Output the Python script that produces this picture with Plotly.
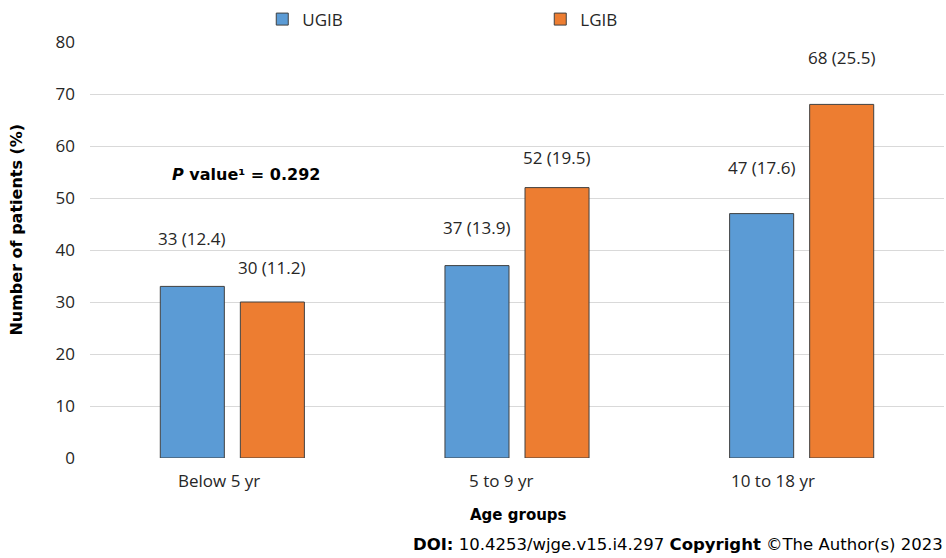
import plotly.graph_objects as go

categories = ["Below 5 yr", "5 to 9 yr", "10 to 18 yr"]
series_names = ["UGIB", "LGIB"]
ugib_counts = [33, 37, 47]
ugib_pct = [12.4, 13.9, 17.6]
lgib_counts = [30, 52, 68]
lgib_pct = [11.2, 19.5, 25.5]
y_ticks = [0, 10, 20, 30, 40, 50, 60, 70, 80]

# styling / offsets (not data)
colors = ["#5B9BD5", "#ED7D31"]
label_yshift = [[48, 38, 46], [35, 30, 47]]
bar_xshift = [-40, 40]
cat_label_xshift = [-13, -16, -29]
FONT = "Open Sans"
BFONT = "DejaVu Sans"
TXT = "#262626"

fig = go.Figure()
series = [(ugib_counts, ugib_pct), (lgib_counts, lgib_pct)]
for i, (counts, pct) in enumerate(series):
    fig.add_trace(go.Bar(
        x=categories, y=counts, name=series_names[i],
        marker=dict(color=colors[i], line=dict(color="#404040", width=1)),
    ))

annotations = []
for i, (counts, pct) in enumerate(series):
    for j, c in enumerate(categories):
        annotations.append(dict(
            x=c, y=counts[j], xref="x", yref="y",
            text=f"{counts[j]} ({pct[j]})", showarrow=False,
            xshift=bar_xshift[i], yshift=label_yshift[i][j],
            xanchor="center", yanchor="middle",
            font=dict(family=FONT, size=17, color=TXT)))

for j, c in enumerate(categories):
    annotations.append(dict(
        x=c, y=-0.055, xref="x", yref="paper", text=c, showarrow=False,
        xshift=cat_label_xshift[j], xanchor="center", yanchor="middle",
        font=dict(family=FONT, size=17, color=TXT)))

annotations += [
    dict(x=0.502, y=-0.137, xref="paper", yref="paper", text="<b>Age groups</b>",
         showarrow=False, xanchor="center", yanchor="middle",
         font=dict(family=BFONT, size=15, color="#000000")),
    dict(x=-0.0855, y=0.549, xref="paper", yref="paper", text="<b>Number of patients (%)</b>",
         textangle=-90, showarrow=False, xanchor="center", yanchor="middle",
         font=dict(family=BFONT, size=16, color="#000000")),
    dict(x=0.0937, y=0.681, xref="paper", yref="paper", xanchor="left", yanchor="middle",
         text="<b><i>P</i> value¹ = 0.292</b>", showarrow=False,
         font=dict(family=BFONT, size=16, color="#000000")),
    dict(x=1.0, y=-0.209, xref="paper", yref="paper", xanchor="right", yanchor="middle",
         xshift=1,
         text="<b>DOI:</b> 10.4253/wjge.v15.i4.297 <b>Copyright</b> ©The Author(s) 2023",
         showarrow=False, font=dict(family=BFONT, size=16.5, color="#000000")),
]

fig.update_layout(
    width=946, height=558,
    margin=dict(l=90, r=2, t=42, b=100),
    paper_bgcolor="white", plot_bgcolor="white",
    barmode="group", bargap=0.4376, bargroupgap=0.2,
    font=dict(family=FONT, size=16, color=TXT),
    legend=dict(orientation="h", x=0.2017, y=1.054, xanchor="left", yanchor="middle",
                entrywidth=233, entrywidthmode="pixels",
                font=dict(family=FONT, size=17, color=TXT)),
    annotations=annotations,
)
fig.update_xaxes(showticklabels=False, showgrid=False, showline=False, zeroline=False)
fig.update_yaxes(range=[0, 80], tickvals=y_ticks, showgrid=True, gridcolor="#D9D9D9",
                 gridwidth=1, zeroline=False, showline=False, ticks="",
                 ticklabelstandoff=14, tickfont=dict(family=FONT, size=17, color=TXT))

fig.write_html("out.html", config={"displayModeBar": False},
               post_script="document.body.style.margin='0px';")
